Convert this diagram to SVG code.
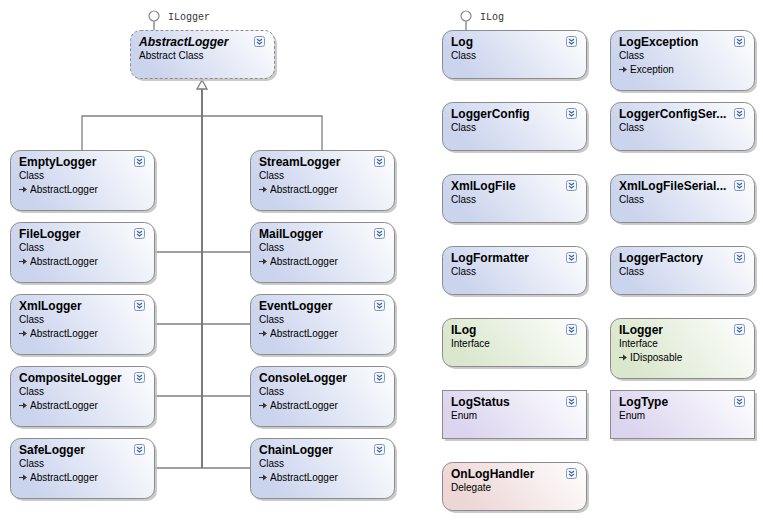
<svg xmlns="http://www.w3.org/2000/svg" width="763" height="520" viewBox="0 0 763 520">
<defs>
<linearGradient id="gClass" x1="0" y1="0.3" x2="1" y2="0"><stop offset="0" stop-color="#cbd4ed"/><stop offset="1" stop-color="#ffffff"/></linearGradient>
<linearGradient id="gIface" x1="0" y1="0.3" x2="1" y2="0"><stop offset="0" stop-color="#dae7cd"/><stop offset="1" stop-color="#ffffff"/></linearGradient>
<linearGradient id="gEnum" x1="0" y1="0.3" x2="1" y2="0"><stop offset="0" stop-color="#dbd5ef"/><stop offset="1" stop-color="#ffffff"/></linearGradient>
<linearGradient id="gDel" x1="0" y1="0.3" x2="1" y2="0"><stop offset="0" stop-color="#edd6d6"/><stop offset="1" stop-color="#ffffff"/></linearGradient>
<g id="col">
<rect x="0.5" y="0.5" width="10" height="10" rx="2" fill="#f4f7fd" stroke="#7d97c9"/>
<path d="M3 3 L5.5 5 L8 3 M3 6 L5.5 8 L8 6" fill="none" stroke="#3d5fa8" stroke-width="1.1"/>
</g>
<g id="inh">
<path d="M0 -3.5 H5" stroke="#333" stroke-width="1"/>
<path d="M4 -6.5 L8 -3.5 L4 -0.5 Z" fill="#333"/>
</g>
</defs>
<style>
.sh{fill:#bdbdbd;opacity:0.8}
.bx{stroke:#8c8c8c;stroke-width:1}
.t{font-family:"Liberation Sans",Arial,sans-serif;font-weight:bold;font-size:12px;fill:#000}
.ti{font-style:italic}
.s{font-family:"Liberation Sans",Arial,sans-serif;font-size:10px;fill:#000}
.lab{font-family:"Liberation Mono","DejaVu Sans Mono",monospace;font-size:10px;fill:#333}
.cn{stroke:#808080;fill:none;stroke-width:1.3}
.tr{stroke:#7a7a7a;fill:none;stroke-width:2}
</style>
<rect width="763" height="520" fill="#ffffff"/>

<g id="connectors">
<path class="cn" d="M82 150 V116 H322 V150"/>
<path class="cn" d="M154 252 H250 M154 324 H250 M154 396 H250 M154 468 H250"/>
<path class="tr" d="M202 89 V468"/>
<path d="M202 80 L207 89 L197 89 Z" fill="#ffffff" stroke="#7a7a7a" stroke-width="1.3"/>
<path class="cn" d="M154 21 V30 M466 21 V30"/>
<circle cx="154" cy="16" r="5" fill="#fff" stroke="#888" stroke-width="1.2"/>
<circle cx="466" cy="16" r="5" fill="#fff" stroke="#888" stroke-width="1.2"/>
<text class="lab" x="168" y="20">ILogger</text>
<text class="lab" x="480" y="20">ILog</text>
</g>

<g id="AbstractLogger">
<rect class="sh" x="133" y="33" width="144" height="48" rx="10"/>
<rect class="bx" x="130.5" y="30.5" width="144" height="48" rx="10" fill="url(#gClass)" stroke-dasharray="3,2"/>
<text class="t ti" x="139" y="46">AbstractLogger</text>
<text class="s" x="139" y="59">Abstract Class</text>
<use href="#col" x="254" y="36"/>
</g>

<g id="EmptyLogger"><rect class="sh" x="13" y="153" width="144" height="60" rx="10"/><rect class="bx" x="10.5" y="150.5" width="144" height="60" rx="10" fill="url(#gClass)"/><text class="t" x="19" y="166">EmptyLogger</text><text class="s" x="19" y="179">Class</text><use href="#inh" x="19" y="193"/><text class="s" x="30" y="193">AbstractLogger</text><use href="#col" x="134" y="156"/></g>
<g id="FileLogger"><rect class="sh" x="13" y="225" width="144" height="60" rx="10"/><rect class="bx" x="10.5" y="222.5" width="144" height="60" rx="10" fill="url(#gClass)"/><text class="t" x="19" y="238">FileLogger</text><text class="s" x="19" y="251">Class</text><use href="#inh" x="19" y="265"/><text class="s" x="30" y="265">AbstractLogger</text><use href="#col" x="134" y="228"/></g>
<g id="XmlLogger"><rect class="sh" x="13" y="297" width="144" height="60" rx="10"/><rect class="bx" x="10.5" y="294.5" width="144" height="60" rx="10" fill="url(#gClass)"/><text class="t" x="19" y="310">XmlLogger</text><text class="s" x="19" y="323">Class</text><use href="#inh" x="19" y="337"/><text class="s" x="30" y="337">AbstractLogger</text><use href="#col" x="134" y="300"/></g>
<g id="CompositeLogger"><rect class="sh" x="13" y="369" width="144" height="60" rx="10"/><rect class="bx" x="10.5" y="366.5" width="144" height="60" rx="10" fill="url(#gClass)"/><text class="t" x="19" y="382">CompositeLogger</text><text class="s" x="19" y="395">Class</text><use href="#inh" x="19" y="409"/><text class="s" x="30" y="409">AbstractLogger</text><use href="#col" x="134" y="372"/></g>
<g id="SafeLogger"><rect class="sh" x="13" y="441" width="144" height="60" rx="10"/><rect class="bx" x="10.5" y="438.5" width="144" height="60" rx="10" fill="url(#gClass)"/><text class="t" x="19" y="454">SafeLogger</text><text class="s" x="19" y="467">Class</text><use href="#inh" x="19" y="481"/><text class="s" x="30" y="481">AbstractLogger</text><use href="#col" x="134" y="444"/></g>

<g id="StreamLogger"><rect class="sh" x="253" y="153" width="144" height="60" rx="10"/><rect class="bx" x="250.5" y="150.5" width="144" height="60" rx="10" fill="url(#gClass)"/><text class="t" x="259" y="166">StreamLogger</text><text class="s" x="259" y="179">Class</text><use href="#inh" x="259" y="193"/><text class="s" x="270" y="193">AbstractLogger</text><use href="#col" x="374" y="156"/></g>
<g id="MailLogger"><rect class="sh" x="253" y="225" width="144" height="60" rx="10"/><rect class="bx" x="250.5" y="222.5" width="144" height="60" rx="10" fill="url(#gClass)"/><text class="t" x="259" y="238">MailLogger</text><text class="s" x="259" y="251">Class</text><use href="#inh" x="259" y="265"/><text class="s" x="270" y="265">AbstractLogger</text><use href="#col" x="374" y="228"/></g>
<g id="EventLogger"><rect class="sh" x="253" y="297" width="144" height="60" rx="10"/><rect class="bx" x="250.5" y="294.5" width="144" height="60" rx="10" fill="url(#gClass)"/><text class="t" x="259" y="310">EventLogger</text><text class="s" x="259" y="323">Class</text><use href="#inh" x="259" y="337"/><text class="s" x="270" y="337">AbstractLogger</text><use href="#col" x="374" y="300"/></g>
<g id="ConsoleLogger"><rect class="sh" x="253" y="369" width="144" height="60" rx="10"/><rect class="bx" x="250.5" y="366.5" width="144" height="60" rx="10" fill="url(#gClass)"/><text class="t" x="259" y="382">ConsoleLogger</text><text class="s" x="259" y="395">Class</text><use href="#inh" x="259" y="409"/><text class="s" x="270" y="409">AbstractLogger</text><use href="#col" x="374" y="372"/></g>
<g id="ChainLogger"><rect class="sh" x="253" y="441" width="144" height="60" rx="10"/><rect class="bx" x="250.5" y="438.5" width="144" height="60" rx="10" fill="url(#gClass)"/><text class="t" x="259" y="454">ChainLogger</text><text class="s" x="259" y="467">Class</text><use href="#inh" x="259" y="481"/><text class="s" x="270" y="481">AbstractLogger</text><use href="#col" x="374" y="444"/></g>

<g id="Log"><rect class="sh" x="445" y="33" width="144" height="48" rx="10"/><rect class="bx" x="442.5" y="30.5" width="144" height="48" rx="10" fill="url(#gClass)"/><text class="t" x="451" y="46">Log</text><text class="s" x="451" y="59">Class</text><use href="#col" x="566" y="36"/></g>
<g id="LoggerConfig"><rect class="sh" x="445" y="105" width="144" height="48" rx="10"/><rect class="bx" x="442.5" y="102.5" width="144" height="48" rx="10" fill="url(#gClass)"/><text class="t" x="451" y="118">LoggerConfig</text><text class="s" x="451" y="131">Class</text><use href="#col" x="566" y="108"/></g>
<g id="XmlLogFile"><rect class="sh" x="445" y="177" width="144" height="48" rx="10"/><rect class="bx" x="442.5" y="174.5" width="144" height="48" rx="10" fill="url(#gClass)"/><text class="t" x="451" y="190">XmlLogFile</text><text class="s" x="451" y="203">Class</text><use href="#col" x="566" y="180"/></g>
<g id="LogFormatter"><rect class="sh" x="445" y="249" width="144" height="48" rx="10"/><rect class="bx" x="442.5" y="246.5" width="144" height="48" rx="10" fill="url(#gClass)"/><text class="t" x="451" y="262">LogFormatter</text><text class="s" x="451" y="275">Class</text><use href="#col" x="566" y="252"/></g>
<g id="ILog"><rect class="sh" x="445" y="321" width="144" height="48" rx="10"/><rect class="bx" x="442.5" y="318.5" width="144" height="48" rx="10" fill="url(#gIface)"/><text class="t" x="451" y="334">ILog</text><text class="s" x="451" y="347">Interface</text><use href="#col" x="566" y="324"/></g>
<g id="LogStatus"><rect class="sh" x="445" y="393" width="144" height="48"/><rect class="bx" x="442.5" y="390.5" width="144" height="48" fill="url(#gEnum)"/><text class="t" x="451" y="406">LogStatus</text><text class="s" x="451" y="419">Enum</text><use href="#col" x="566" y="396"/></g>
<g id="OnLogHandler"><rect class="sh" x="445" y="465" width="144" height="48" rx="10"/><rect class="bx" x="442.5" y="462.5" width="144" height="48" rx="10" fill="url(#gDel)"/><text class="t" x="451" y="478">OnLogHandler</text><text class="s" x="451" y="491">Delegate</text><use href="#col" x="566" y="468"/></g>

<g id="LogException"><rect class="sh" x="613" y="33" width="144" height="60" rx="10"/><rect class="bx" x="610.5" y="30.5" width="144" height="60" rx="10" fill="url(#gClass)"/><text class="t" x="619" y="46">LogException</text><text class="s" x="619" y="59">Class</text><use href="#inh" x="619" y="73"/><text class="s" x="630" y="73">Exception</text><use href="#col" x="734" y="36"/></g>
<g id="LoggerConfigSerializer"><rect class="sh" x="613" y="105" width="144" height="48" rx="10"/><rect class="bx" x="610.5" y="102.5" width="144" height="48" rx="10" fill="url(#gClass)"/><text class="t" x="619" y="118">LoggerConfigSer...</text><text class="s" x="619" y="131">Class</text><use href="#col" x="734" y="108"/></g>
<g id="XmlLogFileSerializer"><rect class="sh" x="613" y="177" width="144" height="48" rx="10"/><rect class="bx" x="610.5" y="174.5" width="144" height="48" rx="10" fill="url(#gClass)"/><text class="t" x="619" y="190">XmlLogFileSerial...</text><text class="s" x="619" y="203">Class</text><use href="#col" x="734" y="180"/></g>
<g id="LoggerFactory"><rect class="sh" x="613" y="249" width="144" height="48" rx="10"/><rect class="bx" x="610.5" y="246.5" width="144" height="48" rx="10" fill="url(#gClass)"/><text class="t" x="619" y="262">LoggerFactory</text><text class="s" x="619" y="275">Class</text><use href="#col" x="734" y="252"/></g>
<g id="ILogger"><rect class="sh" x="613" y="321" width="144" height="60" rx="10"/><rect class="bx" x="610.5" y="318.5" width="144" height="60" rx="10" fill="url(#gIface)"/><text class="t" x="619" y="334">ILogger</text><text class="s" x="619" y="347">Interface</text><use href="#inh" x="619" y="361"/><text class="s" x="630" y="361">IDisposable</text><use href="#col" x="734" y="324"/></g>
<g id="LogType"><rect class="sh" x="613" y="393" width="144" height="48"/><rect class="bx" x="610.5" y="390.5" width="144" height="48" fill="url(#gEnum)"/><text class="t" x="619" y="406">LogType</text><text class="s" x="619" y="419">Enum</text><use href="#col" x="734" y="396"/></g>
</svg>
